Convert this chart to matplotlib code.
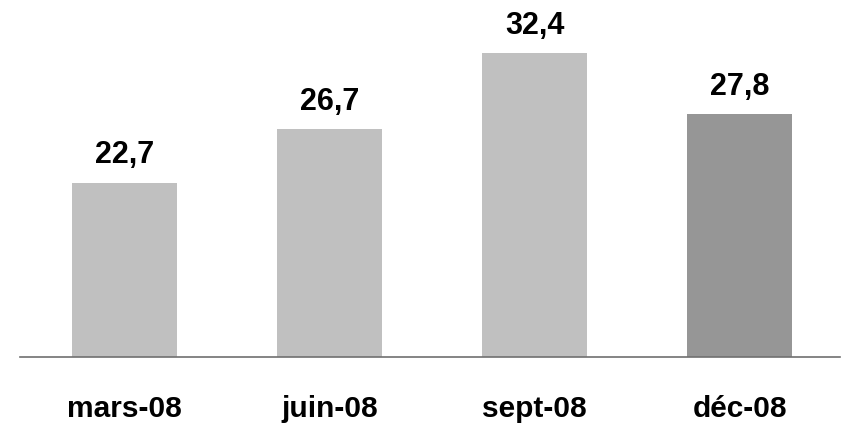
import matplotlib
matplotlib.use("Agg")
import matplotlib.pyplot as plt

periods = ["mars-08", "juin-08", "sept-08", "déc-08"]
values = [22.7, 26.7, 32.4, 27.8]
colors = ["#c0c0c0", "#c0c0c0", "#c0c0c0", "#969696"]

plt.rcParams["font.family"] = ["Liberation Sans", "DejaVu Sans"]

fig = plt.figure(figsize=(8.45, 4.23), dpi=100)
ax = fig.add_axes([20 / 845, 1 - 357.3 / 423, 820 / 845, 357.3 / 423])

x = range(len(periods))
bars = ax.bar(x, values, width=0.51, color=colors, bottom=0)

# value labels sit a fixed distance above each bar
for rect, v in zip(bars, values):
    ax.annotate(f"{v:.1f}".replace(".", ","),
                (rect.get_x() + rect.get_width() / 2, v),
                xytext=(0, 14), textcoords="offset points",
                ha="center", va="baseline",
                fontsize=22, fontweight="bold")

ax.set_xlim(-0.51, 3.49)
ax.set_ylim(9.64, 36.36)
ax.set_xticks(list(x))
ax.set_xticklabels(periods, fontsize=21.5, fontweight="bold")
ax.tick_params(axis="x", length=0, pad=27)
ax.set_yticks([])

for side in ["top", "right", "left"]:
    ax.spines[side].set_visible(False)
ax.spines["bottom"].set_color("#707070")
ax.spines["bottom"].set_linewidth(1.2)

fig.savefig("out.png", dpi=100)
